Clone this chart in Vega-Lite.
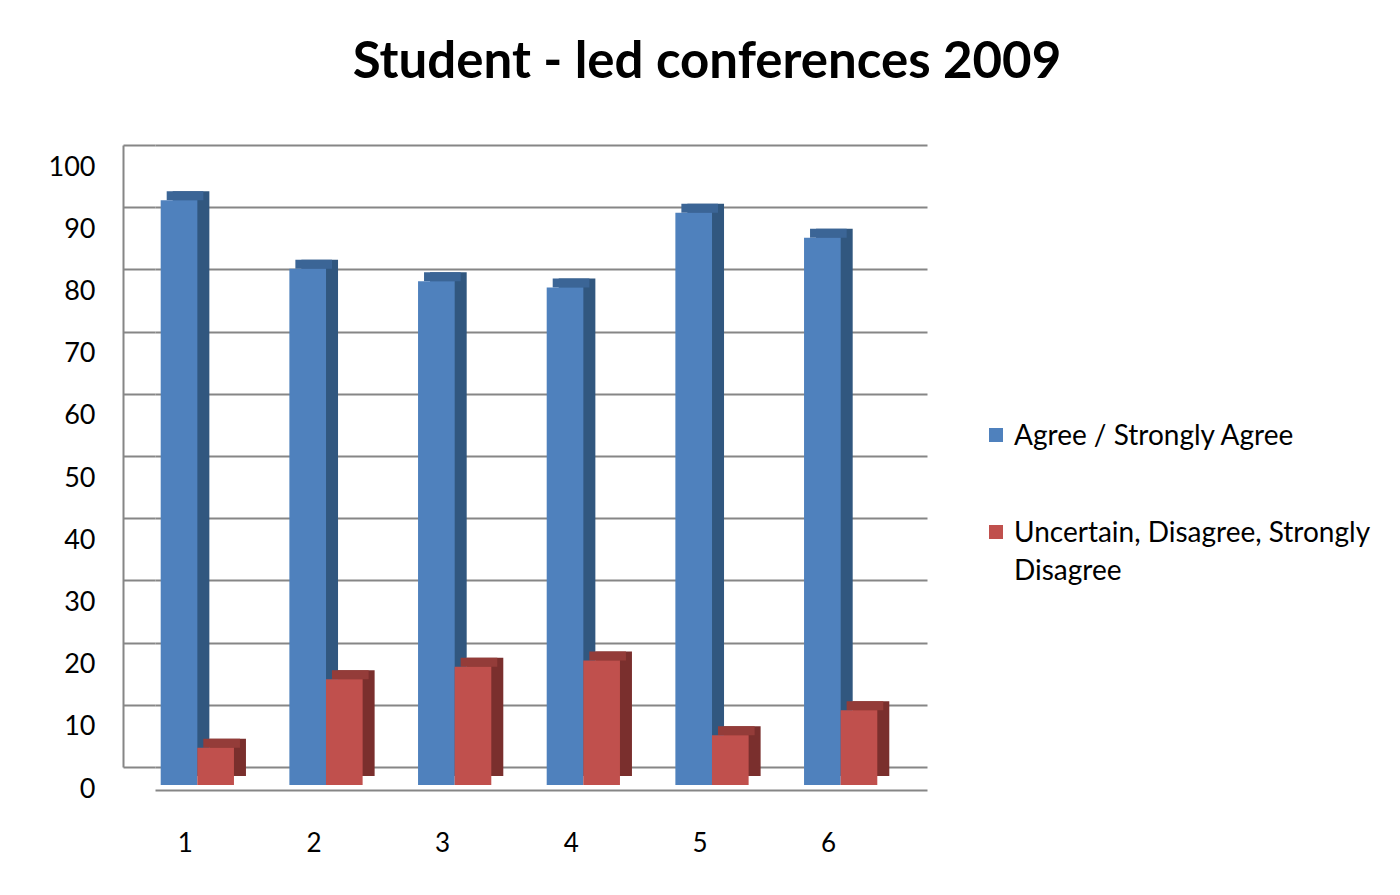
{
  "$schema": "https://vega.github.io/schema/vega-lite/v6.json",
  "width": 772,
  "height": 622,
  "autosize": "none",
  "padding": {"left": 155, "top": 145, "right": 473, "bottom": 128},
  "background": "white",
  "config": {"view": {"stroke": null}},
  "title": {"text": "Student - led conferences 2009", "font": "Lato", "fontSize": 51, "fontWeight": "bold", "color": "#000000", "anchor": "middle", "offset": 55, "dx": 166},
  "data": {"values": [
    {"q": "1", "series": "Agree / Strongly Agree", "v": 94},
    {"q": "1", "series": "Uncertain, Disagree, Strongly Disagree", "v": 6},
    {"q": "2", "series": "Agree / Strongly Agree", "v": 83},
    {"q": "2", "series": "Uncertain, Disagree, Strongly Disagree", "v": 17},
    {"q": "3", "series": "Agree / Strongly Agree", "v": 81},
    {"q": "3", "series": "Uncertain, Disagree, Strongly Disagree", "v": 19},
    {"q": "4", "series": "Agree / Strongly Agree", "v": 80},
    {"q": "4", "series": "Uncertain, Disagree, Strongly Disagree", "v": 20},
    {"q": "5", "series": "Agree / Strongly Agree", "v": 92},
    {"q": "5", "series": "Uncertain, Disagree, Strongly Disagree", "v": 8},
    {"q": "6", "series": "Agree / Strongly Agree", "v": 88},
    {"q": "6", "series": "Uncertain, Disagree, Strongly Disagree", "v": 12}
  ]},
  "encoding": {
    "x": {"field": "q", "type": "nominal", "sort": null,
      "scale": {"paddingInner": 0, "paddingOuter": 0},
      "axis": {"title": null, "labelAngle": 0, "offset": 23, "domainColor": "#868686", "domainWidth": 2, "ticks": false, "labelOffset": -34, "labelPadding": 40, "labelFont": "Lato", "labelFontSize": 26, "labelColor": "#000000", "grid": false}},
    "y": {"field": "v", "type": "quantitative", "scale": {"domain": [0, 100], "nice": false},
      "axis": {"title": null, "values": [0, 10, 20, 30, 40, 50, 60, 70, 80, 90, 100], "grid": true, "gridColor": "#868686", "gridWidth": 2, "domain": true, "domainColor": "#868686", "domainWidth": 2, "offset": 32, "ticks": true, "tickSize": -32, "tickColor": "#868686", "tickWidth": 2, "labelOffset": 22, "labelPadding": 60, "labelFont": "Lato", "labelFontSize": 27, "labelColor": "#000000"}}
  },
  "layer": [
    {"transform": [{"filter": "datum.series == 'Agree / Strongly Agree'"}],
     "mark": {"type": "bar", "width": {"band": 0.2849}, "xOffset": -28.3, "yOffset": 9, "y2Offset": 9, "color": "#31577f"}},
    {"transform": [{"filter": "datum.series == 'Agree / Strongly Agree'"}],
     "mark": {"type": "bar", "width": {"band": 0.2849}, "xOffset": -34.3, "yOffset": 9, "y2Offset": 18, "color": "#3b6596"},
     "encoding": {"y2": {"field": "v"}}},
    {"transform": [{"filter": "datum.series == 'Agree / Strongly Agree'"}],
     "mark": {"type": "bar", "width": {"band": 0.2849}, "xOffset": -40.3, "yOffset": 18, "y2Offset": 18},
     "encoding": {"color": {"field": "series", "type": "nominal",
       "scale": {"domain": ["Agree / Strongly Agree", "Uncertain, Disagree, Strongly Disagree"], "range": ["#4f81bd", "#c0504d"]},
       "legend": {"orient": "none", "legendX": 827, "legendY": 276, "title": null, "padding": 0, "symbolType": "square", "symbolSize": 196, "symbolStrokeWidth": 0, "labelFont": "Lato", "labelFontSize": 28, "labelColor": "#000000", "labelOffset": 4, "labelLimit": 600, "rowPadding": 67,
         "labelExpr": "datum.label == 'Uncertain, Disagree, Strongly Disagree' ? ['Uncertain, Disagree, Strongly', 'Disagree'] : datum.label",
         "encode": {"labels": {"update": {"lineHeight": {"value": 38}, "baseline": {"value": "alphabetic"}, "dy": {"value": 10}}}}}}}},
    {"transform": [{"filter": "datum.series != 'Agree / Strongly Agree'"}],
     "mark": {"type": "bar", "width": {"band": 0.2849}, "xOffset": 8.3, "yOffset": 9, "y2Offset": 9, "color": "#7a2f2d"}},
    {"transform": [{"filter": "datum.series != 'Agree / Strongly Agree'"}],
     "mark": {"type": "bar", "width": {"band": 0.2849}, "xOffset": 2.3, "yOffset": 9, "y2Offset": 18, "color": "#943c39"},
     "encoding": {"y2": {"field": "v"}}},
    {"transform": [{"filter": "datum.series != 'Agree / Strongly Agree'"}],
     "mark": {"type": "bar", "width": {"band": 0.2849}, "xOffset": -3.7, "yOffset": 18, "y2Offset": 18},
     "encoding": {"color": {"field": "series", "type": "nominal"}}}
  ]
}
